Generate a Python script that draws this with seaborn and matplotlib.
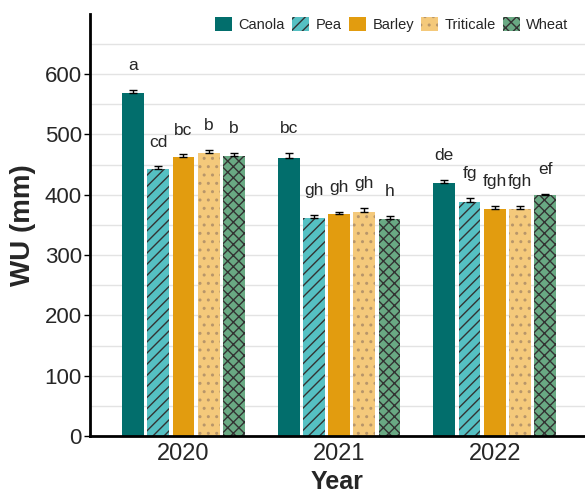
import numpy as np
import pandas as pd
import matplotlib
matplotlib.use("Agg")
import matplotlib.pyplot as plt
import seaborn as sns
from matplotlib.patches import Patch

# data
years = ["2020", "2021", "2022"]
crops = ["Canola", "Pea", "Barley", "Triticale", "Wheat"]
wu_2020 = [568, 442, 462, 470, 465]
wu_2021 = [461, 362, 368, 372, 360]
wu_2022 = [420, 388, 377, 377, 399]
se_2020 = [6, 5, 5, 5, 4]
se_2021 = [8, 5, 4, 6, 5]
se_2022 = [5, 7, 4, 4, 2]
letters_2020 = ["a", "cd", "bc", "b", "b"]
letters_2021 = ["bc", "gh", "gh", "gh", "h"]
letters_2022 = ["de", "fg", "fgh", "fgh", "ef"]

colors = ["#026e6c", "#55c0c3", "#e29c0f", "#f4c97b", "#69a983"]
hatches = ["", "///", "", "..", "xxx"]
hatch_cols = ["#026e6c", "#333333", "#e29c0f", "#b8966a", "#333333"]

rows = []
for yr, vals, ses, labs in zip(years, [wu_2020, wu_2021, wu_2022],
                               [se_2020, se_2021, se_2022],
                               [letters_2020, letters_2021, letters_2022]):
    for c, v, s, l in zip(crops, vals, ses, labs):
        rows.append([yr, c, v, s, l])
df = pd.DataFrame(rows, columns=["Year", "Crop", "WU", "SE", "Letter"])

sns.set_style("white")
plt.rcParams['font.family'] = ['Liberation Sans', 'DejaVu Sans']
plt.rcParams['hatch.linewidth'] = 1.0

fig = plt.figure(figsize=(5.85, 4.96), dpi=100)
ax = fig.add_axes([0.154, 0.121, 0.846, 0.851])

sns.barplot(data=df, x="Year", y="WU", hue="Crop", order=years, hue_order=crops,
            palette=colors, saturation=1, width=0.81, gap=0.14, errorbar=None,
            ax=ax, linewidth=0, legend=False)

# style bars and add error bars / letters
for i, crop in enumerate(crops):
    cont = ax.containers[i]
    sub = df[df["Crop"] == crop].set_index("Year").loc[years]
    xs = []
    for p in cont.patches:
        p.set_hatch(hatches[i])
        p.set_edgecolor(hatch_cols[i])
        p.set_linewidth(0)
        xs.append(p.get_x() + p.get_width() / 2)
    xs = np.array(xs)
    ax.errorbar(xs, sub["WU"], yerr=[np.zeros(len(xs)), sub["SE"]], fmt="none",
                ecolor="black", elinewidth=1, capsize=3, capthick=1, zorder=5)
    for x, v, s, l in zip(xs, sub["WU"], sub["SE"], sub["Letter"]):
        ax.text(x, v + s + 28, l, ha="center", va="bottom", fontsize=12.5)

ax.set_ylim(0, 700)
ax.set_xlim(-0.6, 2.58)
ax.set_yticks(range(0, 700, 100))
ax.set_yticks(range(50, 700, 100), minor=True)
ax.grid(axis="y", which="both", color="#e3e3e3", linewidth=1)
ax.set_axisbelow(True)
for s in ["top", "right"]:
    ax.spines[s].set_visible(False)
for s in ["left", "bottom"]:
    ax.spines[s].set_color("black")
    ax.spines[s].set_linewidth(2)
ax.tick_params(axis="y", which="major", length=4, width=1, color="black",
               labelsize=16, left=True, pad=2)
ax.tick_params(axis="y", which="minor", length=0)
ax.tick_params(axis="x", length=0, labelsize=17, pad=5)
ax.set_xlabel("Year", fontsize=18, fontweight="bold", labelpad=4)
ax.set_ylabel("WU (mm)", fontsize=20, fontweight="bold", labelpad=6)

handles = [Patch(facecolor=colors[i], hatch=hatches[i], edgecolor=hatch_cols[i],
                 linewidth=0, label=crops[i]) for i in range(5)]
ax.legend(handles=handles, loc="center", bbox_to_anchor=(0.61, 0.975), ncol=5,
          frameon=False, fontsize=10.5, handlelength=1.15, handleheight=1.15,
          handletextpad=0.45, columnspacing=0.5, borderpad=0.2)

fig.savefig("out.png", dpi=100)
